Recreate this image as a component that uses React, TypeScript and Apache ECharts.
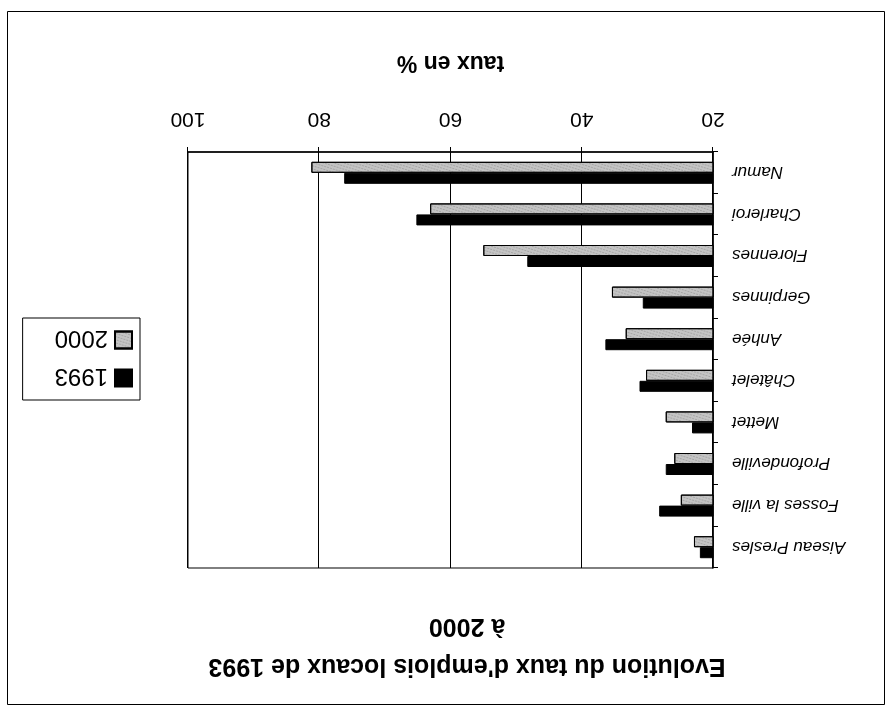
import React, { useEffect, useRef } from "react";
import * as echarts from "echarts";

const categories = [
  "Aiseau Presles",
  "Fosses la ville",
  "Profondeville",
  "Mettet",
  "Châtelet",
  "Anhée",
  "Gerpinnes",
  "Florennes",
  "Charleroi",
  "Namur",
];
const values1993 = [22.0, 28.2, 27.2, 23.2, 31.2, 36.4, 30.7, 48.3, 65.2, 76.2];
const values2000 = [22.9, 24.9, 25.9, 27.2, 30.2, 33.3, 35.4, 55.0, 63.1, 81.2];
const xTicks = [20, 40, 60, 80, 100];

const FONT = "Liberation Sans, Arial, sans-serif";

export default function App() {
  const ref = useRef<HTMLDivElement>(null);
  useEffect(() => {
    if (!ref.current) return;
    const chart = echarts.init(ref.current, undefined, { renderer: "svg" });
    chart.setOption({
      animation: false,
      backgroundColor: "#ffffff",
      title: {
        text: "Evolution du taux d'emplois locaux de 1993\nà 2000",
        left: 420,
        top: 20,
        textAlign: "center",
        textStyle: {
          fontFamily: FONT,
          fontWeight: "bold",
          fontSize: 25,
          lineHeight: 40,
          color: "#000",
        },
      },
      legend: {
        orient: "vertical",
        left: 752,
        top: 313,
        padding: [10, 32, 10, 7],
        itemGap: 14,
        itemWidth: 17,
        itemHeight: 17,
        icon: "rect",
        borderColor: "#000",
        borderWidth: 1,
        backgroundColor: "#fff",
        textStyle: { fontFamily: FONT, fontSize: 24, color: "#000", padding: [0, 0, 0, 2] },
        data: ["1993", "2000"],
      },
      grid: { left: 179, right: 188, top: 145, bottom: 152, show: true, borderColor: "#000", borderWidth: 1 },
      xAxis: {
        type: "value",
        min: xTicks[0],
        max: xTicks[xTicks.length - 1],
        interval: 20,
        name: "taux en %",
        nameLocation: "middle",
        nameGap: 76,
        nameTextStyle: { fontFamily: FONT, fontWeight: "bold", fontSize: 23, color: "#000" },
        axisLine: { show: true, lineStyle: { color: "#000", width: 1.5 } },
        axisTick: { show: true, length: 5, lineStyle: { color: "#000" } },
        axisLabel: { fontFamily: FONT, fontSize: 21, color: "#000", margin: 21 },
        splitLine: { show: true, lineStyle: { color: "#000", width: 1 } },
      },
      yAxis: {
        type: "category",
        data: categories,
        inverse: true,
        axisLine: { show: true, lineStyle: { color: "#000", width: 1.5 } },
        axisTick: { show: true, length: 5, lineStyle: { color: "#000" } },
        axisLabel: { fontFamily: FONT, fontSize: 17, fontStyle: "italic", color: "#000", margin: 19 },
        splitLine: { show: false },
      },
      series: [
        {
          name: "1993",
          type: "bar",
          data: values1993,
          barWidth: 11,
          barGap: "0%",
          itemStyle: { color: "#000", borderColor: "#000", borderWidth: 1 },
        },
        {
          name: "2000",
          type: "bar",
          data: values2000,
          barWidth: 11,
          barGap: "0%",
          itemStyle: {
            color: "#c4c4c4",
            borderColor: "#000",
            borderWidth: 1,
            decal: {
              symbol: "rect",
              symbolSize: 0.6,
              color: "rgba(0,0,0,0.5)",
              dashArrayX: [2, 1],
              dashArrayY: [1, 2],
              rotation: 0.3,
            },
          },
        },
      ],
      graphic: [
        {
          type: "rect",
          shape: { x: 7.5, y: 8.5, width: 877, height: 693 },
          style: { fill: "none", stroke: "#000", lineWidth: 1 },
          silent: true,
        },
      ],
    });
    return () => chart.dispose();
  }, []);
  return (
    <div
      style={{
        position: "fixed",
        left: 0,
        top: 0,
        width: 892,
        height: 713,
        transform: "rotate(180deg)",
        background: "#fff",
      }}
    >
      <div ref={ref} style={{ width: 892, height: 713 }} />
    </div>
  );
}
